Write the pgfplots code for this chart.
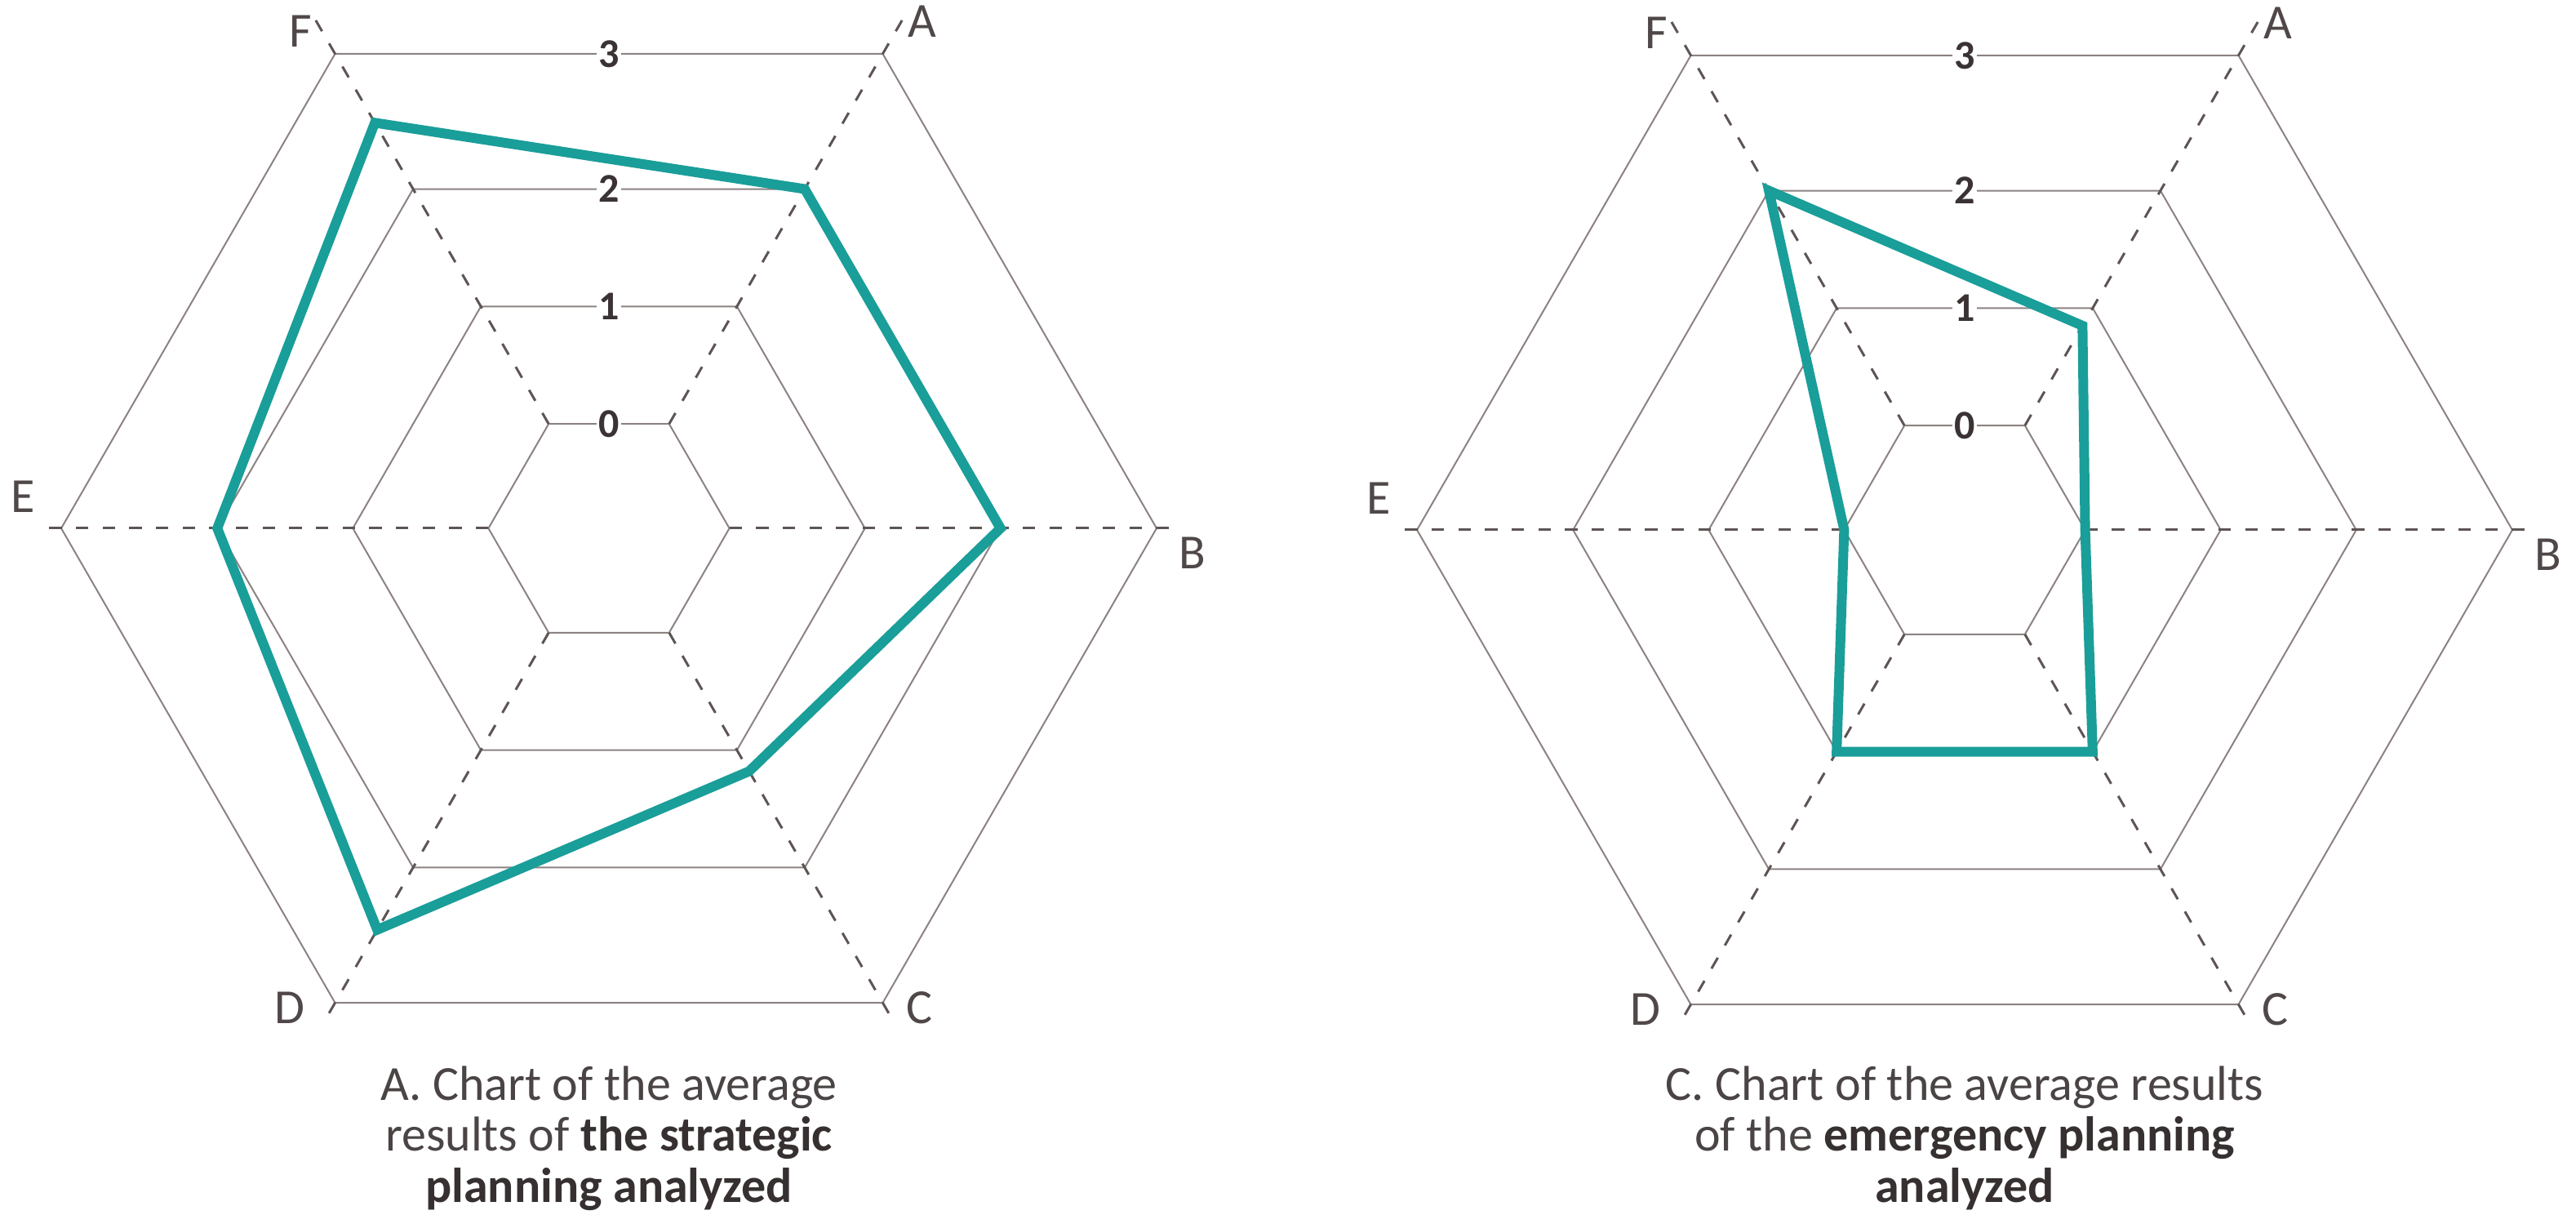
\documentclass[border=0pt]{standalone}
\usepackage{pgfplots}
\pgfplotsset{compat=1.18}
\usepgfplotslibrary{polar}
\usetikzlibrary{calc}
\usepackage{fontspec}
\setmainfont{Carlito}
\definecolor{ringc}{HTML}{8C8282}
\definecolor{spokec}{HTML}{5E5454}
\definecolor{datac}{HTML}{1A9E99}
\definecolor{labc}{HTML}{504848}
\definecolor{tickc}{HTML}{3B3333}
\definecolor{titlec}{HTML}{4A4444}
\definecolor{boldc}{HTML}{363030}

\pgfplotsset{radar/.style={
  width=201.3pt, height=201.3pt, scale only axis,
  xmin=0, xmax=360, ymin=-0.8889, ymax=3,
  y coord trafo/.code={\pgfmathparse{(##1<=2)*(0.88+0.99*##1)+(##1>2)*(2.86+1.14*(##1-2))}},
  hide axis, clip=false, xtick=\empty, ytick=\empty, anchor=center,
}}

\newcommand{\radargrid}{%
  \pgfplotsinvokeforeach{0,1,2,3}{%
    \addplot[ringc, line width=0.3pt, line join=miter] coordinates {(0,##1)(60,##1)(120,##1)(180,##1)(240,##1)(300,##1)} -- cycle;
  }%
  \addplot[spokec, line width=0.45pt, dash pattern=on 2.3pt off 2.6pt] coordinates {(60,0)(60,3.26)};
  \addplot[spokec, line width=0.45pt, dash pattern=on 2.3pt off 2.6pt] coordinates {(120,0)(120,3.26)};
  \addplot[spokec, line width=0.45pt, dash pattern=on 2.3pt off 2.6pt] coordinates {(0,0)(0,3.15)};
  \addplot[spokec, line width=0.45pt, dash pattern=on 2.3pt off 2.6pt] coordinates {(180,0)(180,3.15)};
  \addplot[spokec, line width=0.45pt, dash pattern=on 2.3pt off 2.6pt] coordinates {(240,0)(240,3.13)};
  \addplot[spokec, line width=0.45pt, dash pattern=on 2.3pt off 2.6pt] coordinates {(300,0)(300,3.13)};
}
\newcommand{\radarlabels}{%
  \pgfplotsinvokeforeach{0,1,2,3}{%
    \node[text=tickc, font=\bfseries\fontsize{7.5}{7.5}\selectfont, fill=white, inner sep=0.3pt] at ($(axis cs:60,##1)!0.5!(axis cs:120,##1)$) {##1};
  }%
  \node[text=labc, font=\fontsize{9}{9}\selectfont] at ($(axis cs:60,3)+(7.3pt,6.0pt)$) {A};
  \node[text=labc, font=\fontsize{9}{9}\selectfont] at ($(axis cs:0,3)+(6.6pt,-4.6pt)$) {B};
  \node[text=labc, font=\fontsize{9}{9}\selectfont] at ($(axis cs:300,3)+(6.8pt,-0.9pt)$) {C};
  \node[text=labc, font=\fontsize{9}{9}\selectfont] at ($(axis cs:240,3)+(-8.4pt,-0.9pt)$) {D};
  \node[text=labc, font=\fontsize{9}{9}\selectfont] at ($(axis cs:180,3)+(-7.0pt,5.8pt)$) {E};
  \node[text=labc, font=\fontsize{9}{9}\selectfont] at ($(axis cs:120,3)+(-6.3pt,4.2pt)$) {F};
}

\begin{document}
\begin{tikzpicture}
\path[use as bounding box] (0,0) rectangle (473.4pt,224.7pt);

% Left: strategic planning  -- A(60) B(0) C(300) D(240) E(180) F(120)
\begin{polaraxis}[radar, at={(111.9pt,127.65pt)}]
\radargrid
\addplot[datac, line width=1.8pt, line join=miter] coordinates {(60,2) (0,2) (300,1.18) (240,2.46) (180,2) (120,2.49)} -- cycle;
\radarlabels
\end{polaraxis}

% Right: emergency planning
\begin{polaraxis}[radar, at={(361.05pt,127.35pt)}]
\radargrid
\addplot[datac, line width=1.8pt, line join=miter] coordinates {(60,0.85) (0,0) (300,1) (240,1) (180,0) (120,2)} -- cycle;
\radarlabels
\end{polaraxis}

\tikzset{ttl/.style={anchor=base, text=titlec, font=\fontsize{9}{10.5}\selectfont, inner sep=0pt}}
\node[ttl] at (111.9pt,22.6pt) {A. Chart of the average};
\node[ttl] at (111.9pt,13.2pt) {results of \textcolor{boldc}{\textbf{the strategic}}};
\node[ttl] at (111.9pt,3.9pt) {\textcolor{boldc}{\textbf{planning analyzed}}};

\node[ttl] at (361.05pt,22.6pt) {C. Chart of the average results};
\node[ttl] at (361.05pt,13.2pt) {of the \textcolor{boldc}{\textbf{emergency planning}}};
\node[ttl] at (361.05pt,3.9pt) {\textcolor{boldc}{\textbf{analyzed}}};
\end{tikzpicture}
\end{document}
